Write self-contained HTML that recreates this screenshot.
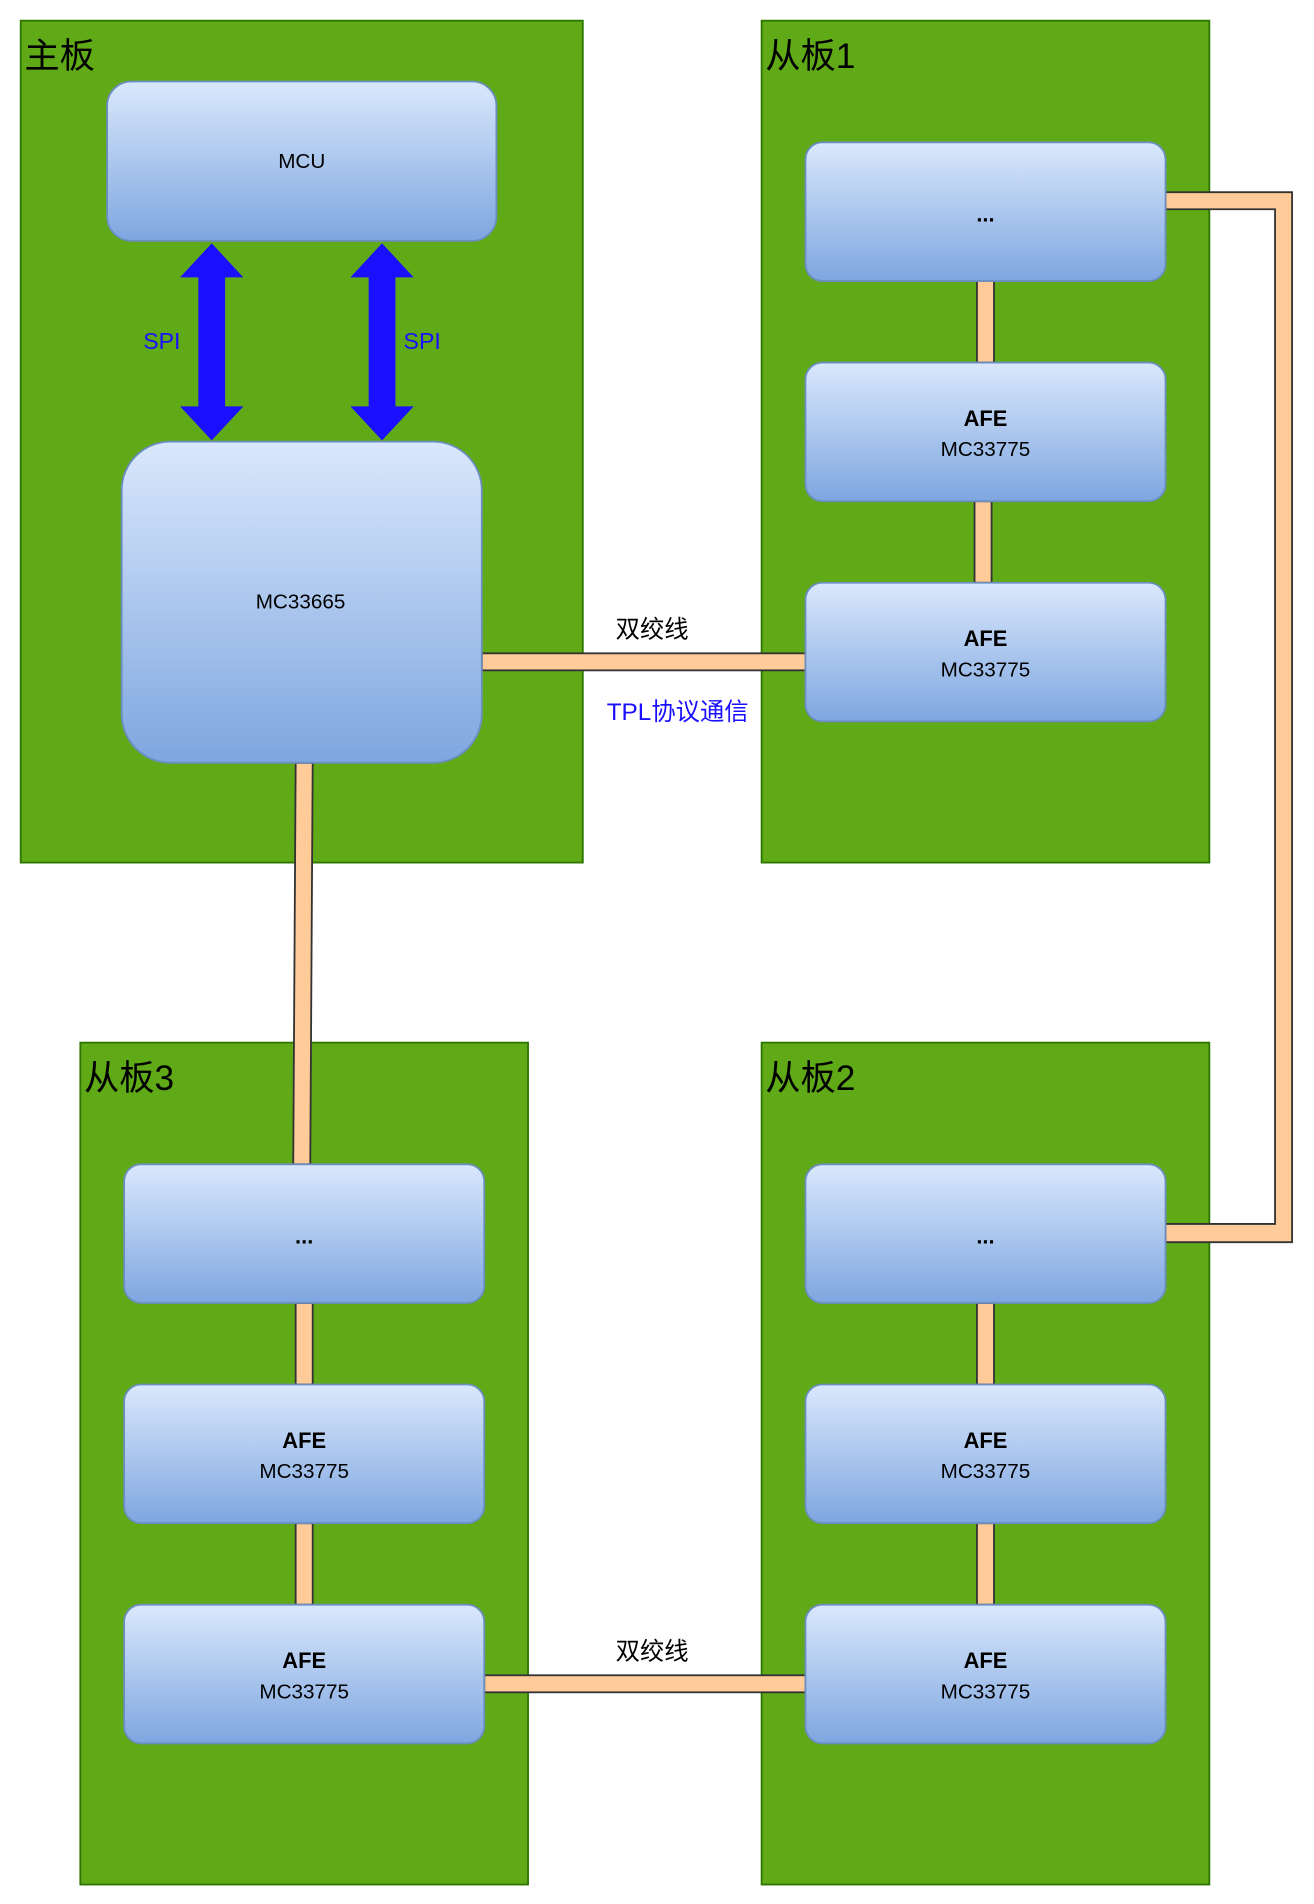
<!DOCTYPE html>
<html><head><meta charset="utf-8"><style>html,body{margin:0;padding:0;background:#fff}svg{display:block}</style></head>
<body>
<svg width="1314" height="1904" viewBox="0 0 1080 1565" xmlns="http://www.w3.org/2000/svg" font-family="Liberation Sans, Noto Sans CJK SC, sans-serif">
<defs>
<linearGradient id="g" x1="0" y1="0" x2="0" y2="1"><stop offset="0" stop-color="#dae8fc"/><stop offset="1" stop-color="#7ea6e0"/></linearGradient>
</defs>
<!-- boards -->
<g fill="#60a917" stroke="#2d7600" stroke-width="1.5">
<rect x="17" y="17" width="462" height="692"/>
<rect x="626" y="17" width="368" height="692"/>
<rect x="66" y="857" width="368" height="692"/>
<rect x="626" y="857" width="368" height="692"/>
</g>
<g font-size="29" fill="#000">
<text x="20" y="56">主板</text>
<text x="629" y="56">从板1</text>
<text x="69" y="896">从板3</text>
<text x="629" y="896">从板2</text>
</g>
<!-- connectors -->
<g fill="#ffcc99" stroke="#333" stroke-width="1.5">
<rect x="396" y="537" width="266" height="14"/>
<rect x="398" y="1377" width="264" height="14"/>
<polygon points="243,627 257,627 255,957 241,957"/>
<rect x="803" y="231" width="14" height="67"/>
<rect x="801" y="412" width="14" height="67"/>
<rect x="243" y="1071" width="14" height="67"/>
<rect x="243" y="1252" width="14" height="67"/>
<rect x="803" y="1071" width="14" height="67"/>
<rect x="803" y="1252" width="14" height="67"/>
<polygon points="958,158 1062,158 1062,1021 958,1021 958,1006 1048,1006 1048,172 958,172"/>
</g>
<!-- boxes -->
<g fill="url(#g)" stroke="#6c8ebf" stroke-width="1.5">
<rect x="88" y="67" width="320" height="131" rx="20"/>
<rect x="100" y="363" width="296" height="264" rx="40"/>
<rect x="662" y="117" width="296" height="114" rx="14"/>
<rect x="662" y="298" width="296" height="114" rx="14"/>
<rect x="662" y="479" width="296" height="114" rx="14"/>
<rect x="102" y="957" width="296" height="114" rx="14"/>
<rect x="102" y="1138" width="296" height="114" rx="14"/>
<rect x="102" y="1319" width="296" height="114" rx="14"/>
<rect x="662" y="957" width="296" height="114" rx="14"/>
<rect x="662" y="1138" width="296" height="114" rx="14"/>
<rect x="662" y="1319" width="296" height="114" rx="14"/>
</g>
<!-- arrows -->
<g fill="#1a0fff">
<polygon points="174,200 200,228 185,228 185,334 200,334 174,362 148,334 163,334 163,228 148,228"/>
<polygon points="314,200 340,228 325,228 325,334 340,334 314,362 288,334 303,334 303,228 288,228"/>
</g>
<g font-size="19" fill="#1a0fff" text-anchor="middle">
<text x="133" y="287">SPI</text>
<text x="347" y="287">SPI</text>
<text x="557" y="592" font-size="20">TPL协议通信</text>
</g>
<g text-anchor="middle" fill="#000">
<text x="248" y="138" font-size="17">MCU</text>
<text x="247" y="500" font-size="17">MC33665</text>
<text x="536" y="524" font-size="20">双绞线</text>
<text x="536" y="1364" font-size="20">双绞线</text>
<g font-size="18" font-weight="bold">
<text x="810" y="182">...</text>
<text x="250" y="1022">...</text>
<text x="810" y="1022">...</text>
<text x="810" y="350">AFE</text>
<text x="810" y="531">AFE</text>
<text x="250" y="1190">AFE</text>
<text x="250" y="1371">AFE</text>
<text x="810" y="1190">AFE</text>
<text x="810" y="1371">AFE</text>
</g>
<g font-size="17">
<text x="810" y="375">MC33775</text>
<text x="810" y="556">MC33775</text>
<text x="250" y="1215">MC33775</text>
<text x="250" y="1396">MC33775</text>
<text x="810" y="1215">MC33775</text>
<text x="810" y="1396">MC33775</text>
</g>
</g>
</svg>
</body></html>
